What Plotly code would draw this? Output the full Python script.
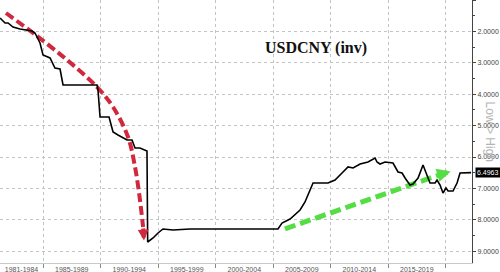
import plotly.graph_objects as go

# Black USDCNY line (year, value)
years = [1981.26, 1981.70, 1981.96, 1982.39, 1983.00, 1983.61, 1984.04, 1984.30, 1984.74, 1985.00,
         1985.61, 1986.04, 1986.48, 1986.74, 1989.70, 1989.78, 1989.96, 1990.74, 1991.09, 1991.52,
         1992.30, 1992.74, 1993.00, 1993.43, 1994.04, 1994.10, 1994.57, 1995.00, 1995.43, 1996.30,
         1997.78, 2003.00, 2005.43, 2005.78, 2006.48, 2007.35, 2007.78, 2008.22, 2008.48, 2009.78,
         2010.39, 2011.00, 2011.52, 2011.96, 2012.57, 2013.26, 2013.87, 2014.04, 2014.30, 2014.74,
         2015.43, 2015.87, 2016.22, 2016.48, 2016.91, 2017.17, 2017.61, 2018.04, 2018.39, 2018.65,
         2019.09, 2019.26, 2019.52, 2019.78, 2020.04, 2020.22, 2020.65, 2021.00, 2021.26, 2021.52,
         2021.87, 2022.22]
values = [1.573, 1.732, 1.732, 1.860, 1.924, 1.955, 1.987, 2.051, 2.369, 2.752,
          2.847, 3.166, 3.197, 3.707, 3.707, 3.866, 4.726, 4.726, 5.204, 5.299,
          5.459, 5.459, 5.713, 5.713, 5.809, 8.707, 8.580, 8.420, 8.293, 8.325,
          8.293, 8.293, 8.293, 8.102, 7.975, 7.688, 7.433, 7.051, 6.828, 6.828,
          6.732, 6.510, 6.318, 6.350, 6.223, 6.159, 6.032, 6.159, 6.223, 6.159,
          6.191, 6.478, 6.510, 6.669, 6.892, 6.860, 6.669, 6.255, 6.573, 6.828,
          6.828, 6.732, 6.892, 7.146, 6.987, 7.083, 7.083, 6.828, 6.510, 6.510,
          6.510, 6.4963]
last_value = 6.4963

# Decorative arrows (year, value)
red_years = [1981.78, 1984.13, 1987.09, 1989.70, 1991.09, 1992.39, 1993.00, 1993.43, 1993.70]
red_values = [1.414, 2.051, 2.911, 3.771, 4.408, 5.363, 6.318, 7.369, 8.229]
red_tip = (1993.78, 8.66)
green_years = [2006.04, 2019.60]
green_values = [8.29, 6.55]
green_tip = (2020.45, 6.46)

# Axis labels
period_bounds = [1985, 1990, 1995, 2000, 2005, 2010, 2015, 2020]
period_labels = ["1981-1984", "1985-1989", "1990-1994", "1995-1999", "2000-2004",
                 "2005-2009", "2010-2014", "2015-2019"]
period_mids = [1983.13, 1987.5, 1992.5, 1997.5, 2002.5, 2007.5, 2012.5, 2017.5]
y_ticks = [1, 2, 3, 4, 5, 6, 7, 8, 9]

x_range = [1981.26, 2022.30]
y_range = [9.376, 1.0]

RED = "#d0283c"
GREEN = "#55dd44"

fig = go.Figure()
fig.add_trace(go.Scatter(x=red_years, y=red_values, mode="lines",
                         line=dict(color=RED, width=4, dash="9px,4px", shape="spline"),
                         hoverinfo="skip", showlegend=False))
fig.add_trace(go.Scatter(x=green_years, y=green_values, mode="lines",
                         line=dict(color=GREEN, width=5, dash="11px,5px"),
                         hoverinfo="skip", showlegend=False))
fig.add_trace(go.Scatter(x=years, y=values, mode="lines",
                         line=dict(color="#000000", width=1.6),
                         showlegend=False))

fig.add_annotation(x=red_tip[0], y=red_tip[1], ax=red_years[-1], ay=red_values[-1],
                   xref="x", yref="y", axref="x", ayref="y", text="", showarrow=True,
                   arrowhead=2, arrowsize=0.55, arrowwidth=4, arrowcolor=RED)
fig.add_annotation(x=green_tip[0], y=green_tip[1], ax=green_years[-1], ay=green_values[-1],
                   xref="x", yref="y", axref="x", ayref="y", text="", showarrow=True,
                   arrowhead=2, arrowsize=0.55, arrowwidth=5, arrowcolor=GREEN)

fig.add_annotation(x=0.557, y=0.817, xref="paper", yref="paper", xanchor="left", yanchor="middle",
                   text="<b>USDCNY (inv)</b>", showarrow=False,
                   font=dict(family="Liberation Serif", size=16, color="#111111"))

fig.add_annotation(x=1.006, y=last_value, xref="paper", yref="y", xanchor="left", yanchor="middle",
                   text="6.4963", showarrow=False, bgcolor="#000000", borderpad=1,
                   font=dict(family="Liberation Sans", size=7, color="#ffffff"))

fig.add_annotation(x=1.040, y=0.50, xref="paper", yref="paper", xanchor="center", yanchor="middle",
                   text="Low > High", textangle=90, showarrow=False,
                   font=dict(family="Liberation Sans", size=12, color="#b4b4b4"))

fig.update_layout(
    width=500, height=272,
    margin=dict(l=0, r=28, t=0, b=9),
    paper_bgcolor="#ffffff", plot_bgcolor="#ffffff",
    xaxis=dict(range=x_range, tickvals=period_mids, ticktext=period_labels,
               ticks="", showgrid=False, zeroline=False, showline=True,
               linecolor="#c8c8c8", linewidth=1, automargin=False,
               tickfont=dict(family="Liberation Sans", size=7, color="#555555"),
               minor=dict(tickvals=period_bounds, ticks="outside", ticklen=4,
                          tickcolor="#888888", showgrid=True, gridcolor="#c4c4c4",
                          griddash="dot", gridwidth=1)),
    yaxis=dict(range=y_range, side="right", tickvals=y_ticks, tickformat=".4f",
               ticks="outside", ticklen=3, tickcolor="#444444",
               showline=True, linecolor="#444444", linewidth=1,
               showgrid=True, gridcolor="#c4c4c4", griddash="dot", gridwidth=1,
               zeroline=False, automargin=False,
               tickfont=dict(family="Liberation Sans", size=7, color="#444444"),
               minor=dict(dtick=0.5, tick0=1, ticks="outside", ticklen=2,
                          tickcolor="#444444", showgrid=False)),
)

fig.write_html("out.html")
